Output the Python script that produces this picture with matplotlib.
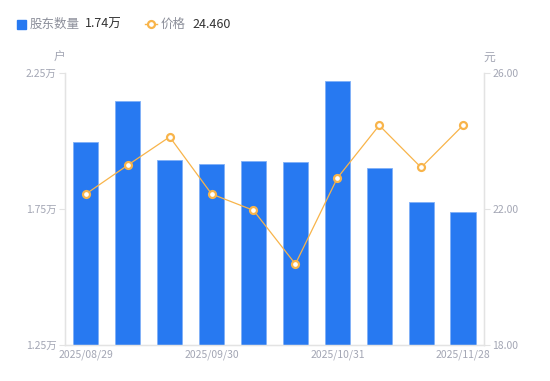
import matplotlib
matplotlib.use('Agg')
import matplotlib.pyplot as plt

plt.rcParams['font.family'] = ['Noto Sans CJK SC', 'DejaVu Sans']

dates = ['2025/08/29', '2025/09/12', '2025/09/19', '2025/09/30', '2025/10/10',
         '2025/10/20', '2025/10/31', '2025/11/10', '2025/11/20', '2025/11/28']
holders = [1.996, 2.147, 1.930, 1.915, 1.925, 1.921, 2.219, 1.901, 1.774, 1.740]
price = [22.44, 23.29, 24.12, 22.44, 21.96, 20.38, 22.91, 24.46, 23.22, 24.46]
label_idx = [0, 3, 6, 9]

blue = '#2779f1'
orange = '#f8b44a'
grey = '#a3a6b4'
axis_col = '#e3e3e3'

fig = plt.figure(figsize=(5.5, 3.81), dpi=100)
ax = fig.add_axes([0.118, 0.0945, 0.762, 0.714])
ax2 = ax.twinx()

x = list(range(len(dates)))
ax.bar(x, holders, width=0.6, color=blue, edgecolor='#7fb0f7', linewidth=0.6, zorder=2)
ax2.plot(x, price, color=orange, linewidth=0.9, marker='o', markersize=5,
         markerfacecolor='white', markeredgecolor=orange, markeredgewidth=1.6, zorder=3)

ax.set_xlim(-0.5, len(dates) - 0.5)
ax.set_ylim(1.25, 2.25)
ax2.set_ylim(18, 26)
ax.set_yticks([1.25, 1.75, 2.25])
ax.set_yticklabels(['1.25万', '1.75万', '2.25万'])
ax2.set_yticks([18, 22, 26])
ax2.set_yticklabels(['18.00', '22.00', '26.00'])
ax.set_xticks(label_idx)
ax.set_xticklabels([dates[i] for i in label_idx])

for a in (ax, ax2):
    a.spines['top'].set_visible(False)
    for s in ('left', 'right', 'bottom'):
        a.spines[s].set_color(axis_col)
        a.spines[s].set_linewidth(0.9)
    a.tick_params(colors=grey, labelsize=7.5, length=4, width=0.8)
    a.tick_params(axis='y', color=axis_col, pad=2)
ax.tick_params(axis='x', length=0, pad=3)
ax.set_zorder(ax2.get_zorder() - 1)
ax.patch.set_visible(False)
ax2.patch.set_visible(False)

# unit labels above the axes
fig.text(59 / 550, 1 - 57 / 381, '户', color=grey, fontsize=8.5, ha='center', va='center')
fig.text(489 / 550, 1 - 57 / 381, '元', color=grey, fontsize=8.5, ha='center', va='center')

# legend row at the top
fig.patches.append(plt.Rectangle((17 / 550, 1 - 29 / 381), 9 / 550, 9 / 381,
                                 transform=fig.transFigure, color=blue))
fig.text(30 / 550, 1 - 24 / 381, '股东数量', color='#8c8f9a', fontsize=9, va='center')
fig.text(85 / 550, 1 - 24 / 381, '1.74万', color='#333333', fontsize=9, va='center')
fig.lines.append(plt.Line2D([145 / 550, 151 / 550, 157 / 550], [1 - 24 / 381] * 3,
                            transform=fig.transFigure, color=orange, linewidth=1,
                            marker='o', markevery=[1], markersize=5, markerfacecolor='white',
                            markeredgecolor=orange, markeredgewidth=1.6))
fig.text(161 / 550, 1 - 24 / 381, '价格', color='#8c8f9a', fontsize=9, va='center')
fig.text(192 / 550, 1 - 24 / 381, '24.460', color='#333333', fontsize=9, va='center')

fig.savefig('out.png', dpi=100)
